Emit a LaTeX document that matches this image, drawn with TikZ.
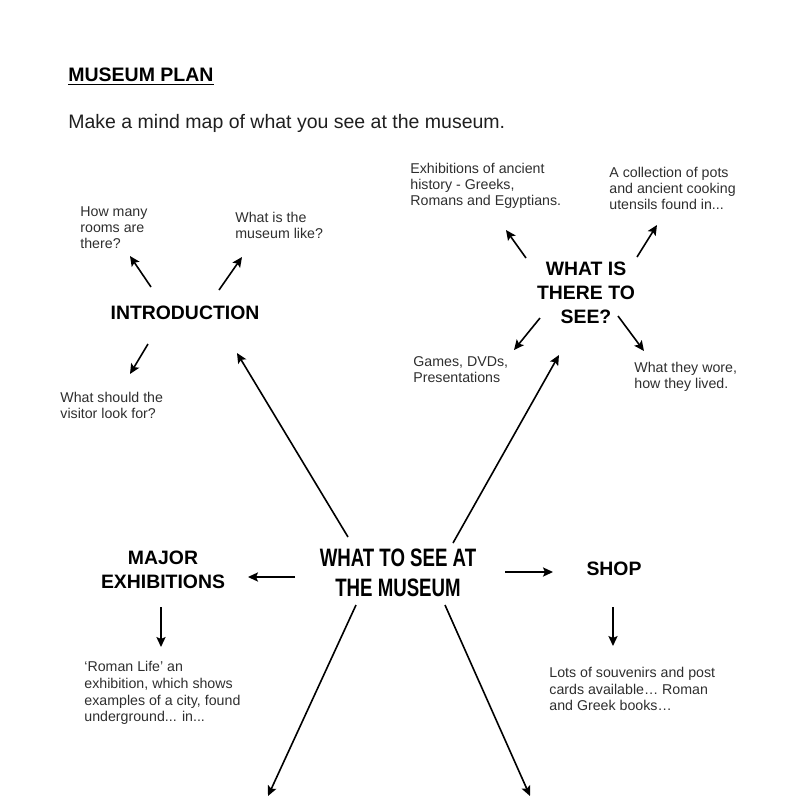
\documentclass[tikz,border=0pt]{standalone}
\usepackage{fontspec}
\setmainfont{Liberation Sans}
\newfontfamily\condfont[FakeStretch=0.74]{Liberation Sans Bold}
\usetikzlibrary{arrows.meta}

\begin{document}
\begin{tikzpicture}[x=0.5pt, y=-0.5pt,
  arr/.style={-{Stealth[length=5pt, width=4.6pt, inset=1pt]}, line width=0.8pt},
  note/.style={anchor=west, align=left, inner sep=0pt, text=black!82,
    font=\fontsize{7.1}{8}\selectfont},
  topic/.style={align=center, inner sep=0pt, font=\fontsize{9.7}{12}\selectfont\bfseries}]
  \useasboundingbox (0,0) rectangle (800,800);

  % heading
  \node[anchor=base west, inner sep=0pt] (title) at (68,81)
    {\fontsize{9.75}{12}\selectfont\bfseries\underline{MUSEUM PLAN}};
  \node[anchor=base west, inner sep=0pt, text=black!88] (task) at (68,128)
    {\fontsize{9.75}{12}\selectfont Make a mind map of what you see at the museum.};

  % centre and topics
  \node[align=center, inner sep=0pt, font=\fontsize{12.6}{15}\condfont] (main) at (398,573)
    {WHAT TO SEE AT\\THE MUSEUM};
  \node[topic] (intro) at (185,313) {INTRODUCTION};
  \node[topic] (see) at (586,293) {WHAT IS\\THERE TO\\SEE?};
  \node[topic] (major) at (163,570) {MAJOR\\EXHIBITIONS};
  \node[topic] (shop) at (614,569) {SHOP};

  % notes
  \node[note] (rooms) at (80,228) {How many\\rooms are\\there?};
  \node[note] (like) at (235,225) {What is the\\museum like?};
  \node[note] (lookfor) at (60,405) {What should the\\visitor look for?};
  \node[note] (ancient) at (410,186) {Exhibitions of ancient\\history - Greeks,\\Romans and Egyptians.};
  \node[note] (pots) at (609,188) {A collection of pots\\and ancient cooking\\utensils found in...};
  \node[note] (games) at (413,370) {Games, DVDs,\\Presentations};
  \node[note] (wore) at (634,377) {What they wore,\\how they lived.};
  \node[note, font=\fontsize{7.1}{8.4}\selectfont] (roman) at (84,693)
    {`Roman Life' an\\exhibition, which shows\\examples of a city, found\\underground... in...};
  \node[note, font=\fontsize{7.1}{8.4}\selectfont] (books) at (549,689)
    {Lots of souvenirs and post\\cards available… Roman\\and Greek books…};

  % arrow ends (s = start, t = tip)
  \coordinate (rooms-s) at (151,287);   \coordinate (rooms-t) at (130,256);
  \coordinate (like-s) at (219,290);    \coordinate (like-t) at (242,257);
  \coordinate (lookfor-s) at (148,344); \coordinate (lookfor-t) at (130,374);
  \coordinate (intro-s) at (348,537);   \coordinate (intro-t) at (237,353);
  \coordinate (ancient-s) at (526,258); \coordinate (ancient-t) at (506,230);
  \coordinate (pots-s) at (637,257);    \coordinate (pots-t) at (657,225);
  \coordinate (games-s) at (540,318);   \coordinate (games-t) at (514,350);
  \coordinate (wore-s) at (618,316);    \coordinate (wore-t) at (644,351);
  \coordinate (see-s) at (453,543);     \coordinate (see-t) at (559,355);
  \coordinate (major-s) at (295,577);   \coordinate (major-t) at (248,577);
  \coordinate (shop-s) at (505,572);    \coordinate (shop-t) at (553,572);
  \coordinate (roman-s) at (161,607);   \coordinate (roman-t) at (161,647);
  \coordinate (books-s) at (613,607);   \coordinate (books-t) at (613,646);
  \coordinate (sw-s) at (356,605);      \coordinate (sw-t) at (268,796);
  \coordinate (se-s) at (445,605);      \coordinate (se-t) at (530,796);

  \foreach \n in {rooms, like, lookfor, intro, ancient, pots, games, wore,
                  see, major, shop, roman, books, sw, se} {
    \draw[arr] (\n-s) -- (\n-t);
  }
\end{tikzpicture}
\end{document}
